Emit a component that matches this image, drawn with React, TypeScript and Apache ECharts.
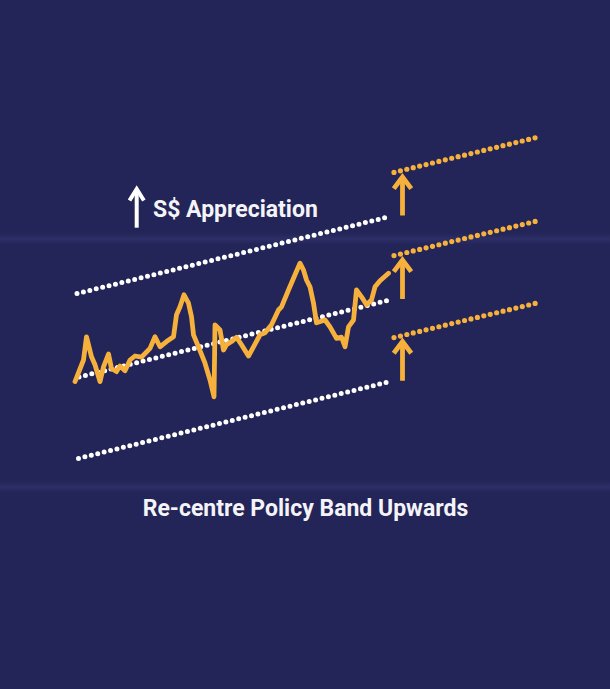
import React, { useEffect, useRef } from "react";
import * as echarts from "echarts";

// x: period index, y: S$NEER level (arbitrary index units)
const exchangeRate: [number, number][] = [
    [0, 29.6], [1.7, 35], [2.3, 40.8], [3.3, 35.8], [4, 33.8], [5, 29.6], [5.7, 33.3],
    [6.7, 36.5], [7.3, 32.9], [8.3, 32.1], [9, 33.5], [10, 32.3], [11, 35], [12, 36],
    [13.3, 35.7], [15, 37.9], [16, 40.8], [17, 38.3], [18.3, 39.6], [19.7, 40.8],
    [20.3, 46.3], [21, 48.3], [21.8, 51.3], [22.7, 49.2], [23.3, 45.8], [23.7, 41.3],
    [24.7, 38.3], [26, 34.2], [27, 30], [27.8, 25.8], [28, 43.8], [29, 42.5],
    [29.7, 37.5], [30.3, 38.8], [31.3, 39.6], [32.3, 40.7], [33.3, 38.8], [34.7, 36],
    [35.7, 38.3], [37, 41.3], [38, 41.8], [39.3, 43.8], [40.7, 47.5], [41.3, 48.3],
    [42.7, 52.5], [44, 56.3], [45, 59.2], [45.7, 57.5], [46.3, 55], [47, 53.3],
    [47.7, 49.2], [48.3, 44.3], [50, 45], [51, 43.3], [52.3, 40.4], [53.3, 40.7],
    [54, 38.3], [54.7, 43.3], [55.7, 45], [56.3, 52.5], [57.3, 50.8], [58.3, 48.8],
    [59.3, 50], [60, 53.3], [61, 54.8], [62.7, 56.7],
];

// current policy band
const bandUpper: [number, number][] = [[0.4, 51.6], [62.6, 70.75]];
const bandCentre: [number, number][] = [[0.8, 30.75], [62.6, 49.9]];
const bandLower: [number, number][] = [[0.7, 10.4], [62.6, 29.5]];

// re-centred band
const newBandUpper: [number, number][] = [[63.8, 81.9], [93.2, 90.9]];
const newBandCentre: [number, number][] = [[63.8, 61.1], [93.2, 70]];
const newBandLower: [number, number][] = [[63.8, 40.6], [93.2, 49.5]];

// upward shift arrows: x, from, to
const shiftX = 65.5;
const shiftFrom = [71.1, 50.25, 29.8];
const shiftTo = [80.75, 60, 39.6];

const BG = "#232457";
const ORANGE = "#f6b13c";
const WHITE = "#ffffff";

const dotted = (data: [number, number][], color: string, width: number) => ({
    type: "line" as const,
    data,
    symbol: "none",
    silent: true,
    z: 2,
    lineStyle: { color, width, type: [0, 6.6], cap: "round" as const },
});

const stripe = (y: number) => ({
    type: "rect",
    shape: { x: 0, y, width: 610, height: 12 },
    silent: true,
    style: {
        fill: new echarts.graphic.LinearGradient(0, 0, 0, 1, [
            { offset: 0, color: "rgba(58,64,128,0)" },
            { offset: 0.5, color: "rgba(58,64,128,0.4)" },
            { offset: 1, color: "rgba(58,64,128,0)" },
        ]),
    },
});

const App: React.FC = () => {
    const chartRef = useRef<HTMLDivElement | null>(null);

    useEffect(() => {
        document.body.style.margin = "0";
        if (!chartRef.current) return;
        const chart = echarts.init(chartRef.current, undefined, { renderer: "svg" });

        const arrowSeries: any[] = [];
        shiftFrom.forEach((from, i) => {
            const to = shiftTo[i];
            arrowSeries.push({
                type: "line",
                data: [[shiftX, from], [shiftX, to - 0.3]],
                symbol: "none",
                silent: true,
                z: 3,
                lineStyle: { color: ORANGE, width: 4.8, cap: "butt" },
            });
            arrowSeries.push({
                type: "line",
                data: [[shiftX - 1.75, to - 2.9], [shiftX, to], [shiftX + 1.75, to - 2.9]],
                symbol: "none",
                silent: true,
                z: 3,
                lineStyle: { color: ORANGE, width: 4.8, join: "miter", cap: "butt" },
            });
        });

        chart.setOption({
            animation: false,
            backgroundColor: BG,
            grid: { left: 75, top: 100, width: 470, height: 400 },
            xAxis: { type: "value", min: 0, max: 94, show: false },
            yAxis: { type: "value", min: 0, max: 100, show: false },
            graphic: [
                stripe(233),
                stripe(481),
                {
                    type: "group",
                    silent: true,
                    children: [
                        {
                            type: "line",
                            shape: { x1: 136.7, y1: 190, x2: 136.7, y2: 227.7 },
                            style: { stroke: WHITE, lineWidth: 4 },
                        },
                        {
                            type: "polyline",
                            shape: { points: [[129.5, 200.5], [136.7, 189], [143.9, 200.5]] },
                            style: { stroke: WHITE, lineWidth: 4, fill: "none", lineJoin: "miter" },
                        },
                        {
                            type: "text",
                            x: 153,
                            y: 209,
                            style: {
                                text: "S$ Appreciation",
                                fill: "#f4f4f8",
                                font: 'bold 23px Roboto, "DejaVu Sans", sans-serif',
                                textAlign: "left",
                                textVerticalAlign: "middle",
                            },
                        },
                    ],
                },
                {
                    type: "text",
                    x: 305.5,
                    y: 508,
                    silent: true,
                    style: {
                        text: "Re-centre Policy Band Upwards",
                        fill: "#f4f4f8",
                        font: 'bold 23px Roboto, "DejaVu Sans", sans-serif',
                        textAlign: "center",
                        textVerticalAlign: "middle",
                    },
                },
            ],
            series: [
                dotted(bandUpper, WHITE, 5),
                dotted(bandCentre, WHITE, 5),
                dotted(bandLower, WHITE, 5),
                dotted(newBandUpper, ORANGE, 5.2),
                dotted(newBandCentre, ORANGE, 5.2),
                dotted(newBandLower, ORANGE, 5.2),
                {
                    type: "line",
                    data: exchangeRate,
                    symbol: "none",
                    silent: true,
                    z: 4,
                    lineStyle: { color: ORANGE, width: 4.8, join: "round", cap: "round" },
                },
                ...arrowSeries,
            ],
        });

        return () => {
            chart.dispose();
        };
    }, []);

    return <div ref={chartRef} style={{ width: 610, height: 689 }} />;
};

export default App;
